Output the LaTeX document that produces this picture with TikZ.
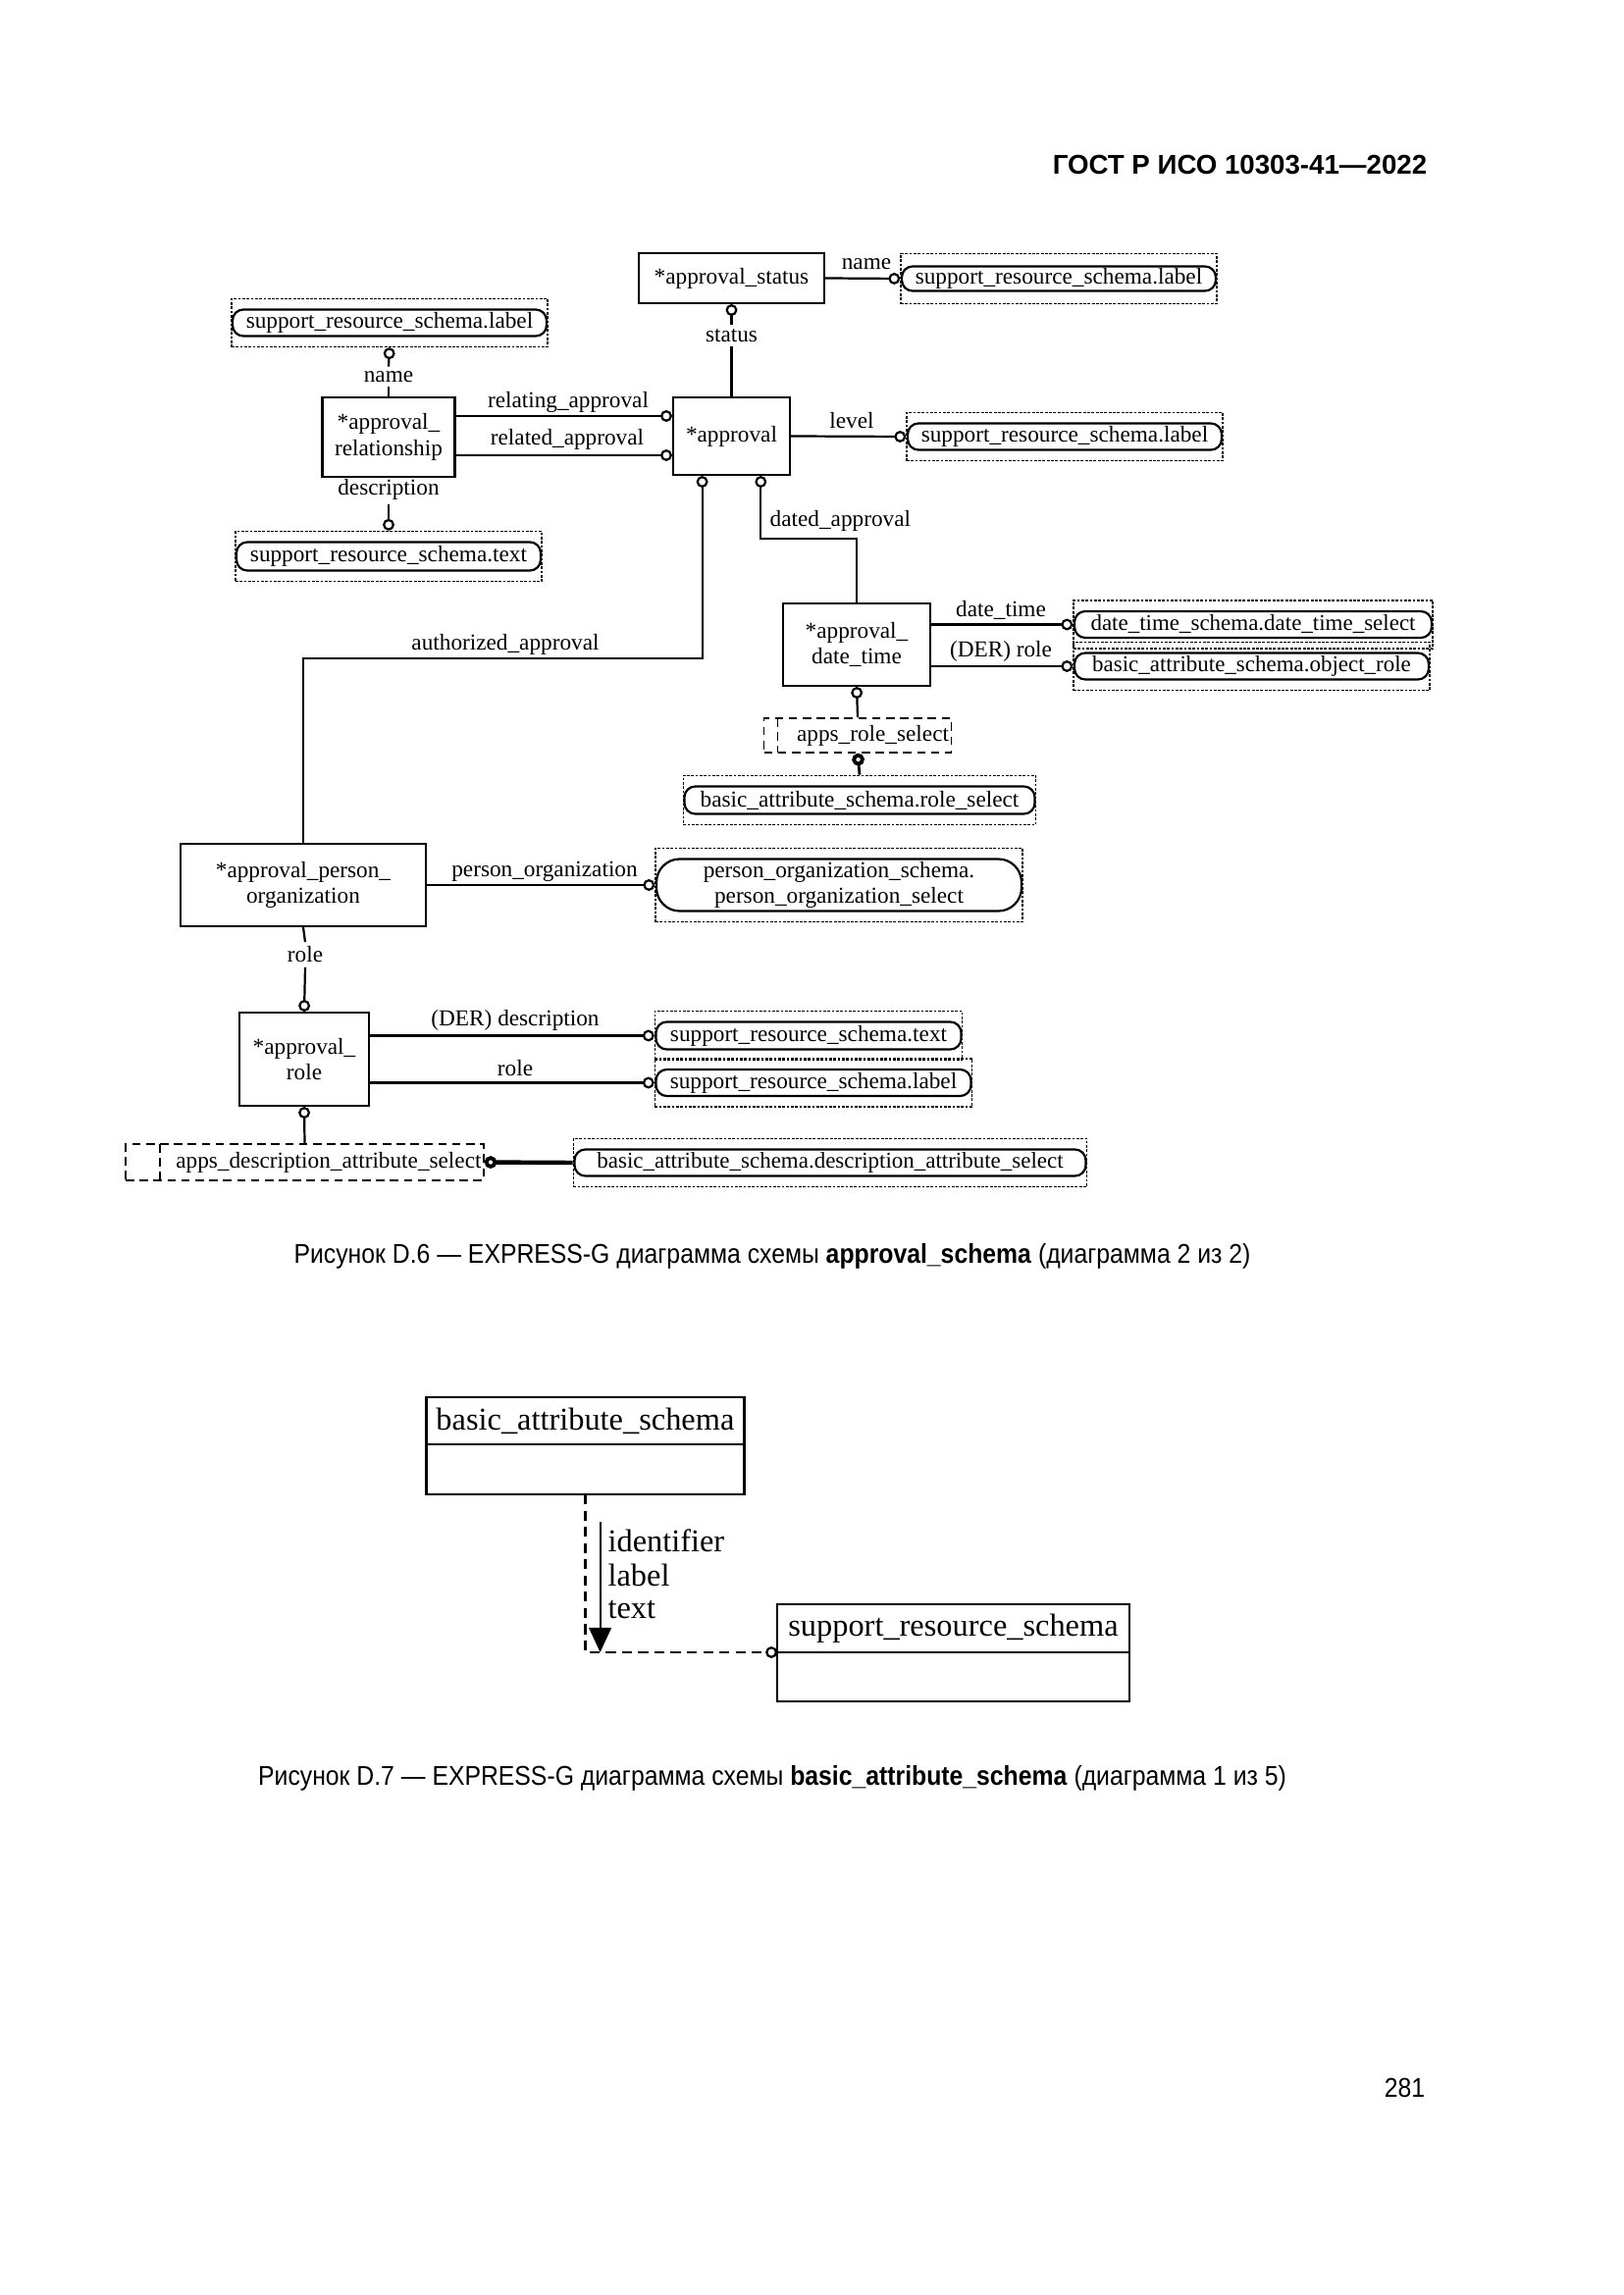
\documentclass[tikz,border=0pt]{standalone}
\usepackage{fontspec}
\setmainfont{Liberation Sans}
\newfontfamily\capfont[FakeStretch=0.895]{Liberation Sans}
\newfontfamily\diagfont{Liberation Serif}
\usetikzlibrary{arrows.meta,fit,positioning}
\newcommand{\pxu}{0.127mm}
\newcommand{\dfont}{\diagfont\fontsize{8.4}{9.5}\selectfont}
\newcommand{\sfont}{\diagfont\fontsize{11.7}{13}\selectfont}
\tikzstyle{ent} = [draw=black, line width=0.8pt, align=center, inner sep=0pt, font=\dfont]
\tikzstyle{refin} = [draw=black, line width=0.8pt, rounded corners=1.4mm, align=center, inner sep=0pt, font=\dfont]
\tikzstyle{refout} = [draw=black, line width=0.5pt, dash pattern=on 0.35mm off 0.2mm, inner xsep=0pt, inner ysep=10*\pxu]
\tikzstyle{lab} = [font=\dfont, inner sep=1.5pt]
\tikzstyle{rel} = [line width=0.8pt, -{Circle[open,length=1.5mm,width=1.5mm]}]
\tikzstyle{relb} = [line width=1pt, -{Circle[open,length=1.6mm,width=1.6mm,line width=1.4pt]}]
\tikzstyle{schname} = [draw=black, line width=0.9pt, inner sep=0pt, outer sep=0pt, font=\sfont]
\tikzstyle{figcap} = [font=\capfont\fontsize{10}{12}\selectfont]
\tikzset{selbox/.style={draw=black, line width=0.6pt, dash pattern=on 1.1mm off 0.7mm,
    font=\dfont, inner sep=0.3mm, align=right,
    path picture={\draw[line width=0.6pt, dash pattern=on 1.1mm off 0.7mm]
      ([xshift=#1]path picture bounding box.north west) -- ([xshift=#1]path picture bounding box.south west);}}}

\begin{document}
\begin{tikzpicture}[x=0.127mm, y=-0.127mm]
  \useasboundingbox (0,0) rectangle (1654,2339);
  \node[anchor=east, font=\bfseries\fontsize{10}{12}\selectfont] (head) at (1464,168) {ГОСТ Р ИСО 10303-41—2022};

  % approval_schema, diagram 2
  \node[ent, minimum width=189*\pxu, minimum height=51*\pxu] (ast) at (745.5,283.5) {*approval\_status};
  \node[ent, minimum width=135*\pxu, minimum height=81*\pxu] (arel) at (396,445.5) {*approval\_\\relationship};
  \node[ent, minimum width=119*\pxu, minimum height=79*\pxu] (appr) at (745.5,444.5) {*approval};
  \node[ent, minimum width=150*\pxu, minimum height=84*\pxu] (adt) at (873,657) {*approval\_\\date\_time};
  \node[ent, minimum width=250*\pxu, minimum height=84*\pxu] (apo) at (309,902) {*approval\_person\_\\organization};
  \node[ent, minimum width=132*\pxu, minimum height=95*\pxu] (arol) at (310,1079.5) {*approval\_\\role};

  \node[refin, minimum width=320*\pxu, minimum height=25*\pxu] (lblAin) at (1079,284) {support\_resource\_schema.label};
  \node[refout, fit=(lblAin), inner ysep=12*\pxu] (lblA) {};
  \node[refin, minimum width=320*\pxu, minimum height=27*\pxu] (lblBin) at (397,329) {support\_resource\_schema.label};
  \node[refout, fit=(lblBin)] (lblB) {};
  \node[refin, minimum width=320*\pxu, minimum height=27*\pxu] (lblCin) at (1085,445) {support\_resource\_schema.label};
  \node[refout, fit=(lblCin)] (lblC) {};
  \node[refin, minimum width=310*\pxu, minimum height=29*\pxu] (txtAin) at (396,567) {support\_resource\_schema.text};
  \node[refout, fit=(txtAin)] (txtA) {};
  \node[refin, minimum width=364*\pxu, minimum height=27*\pxu, font=\diagfont\fontsize{8.3}{9.5}\selectfont] (dtsin) at (1277,636.5) {date\_time\_schema.date\_time\_select};
  \node[refout, fit=(dtsin)] (dts) {};
  \node[refin, minimum width=361*\pxu, minimum height=27*\pxu, font=\diagfont\fontsize{8.3}{9.5}\selectfont] (objrin) at (1275.5,679) {basic\_attribute\_schema.object\_role};
  \node[refout, fit=(objrin)] (objr) {};
  \node[refin, minimum width=357*\pxu, minimum height=28*\pxu] (rselin) at (876,815.5) {basic\_attribute\_schema.role\_select};
  \node[refout, fit=(rselin)] (rsel) {};
  \node[refin, rounded corners=3mm, minimum width=372*\pxu, minimum height=53*\pxu] (porgin) at (855,902) {person\_organization\_schema.\\person\_organization\_select};
  \node[refout, fit=(porgin)] (porg) {};
  \node[refin, minimum width=311*\pxu, minimum height=28*\pxu] (txtBin) at (824,1055.5) {support\_resource\_schema.text};
  \node[refout, fit=(txtBin)] (txtB) {};
  \node[refin, minimum width=321*\pxu, minimum height=27*\pxu] (lblDin) at (829,1103.5) {support\_resource\_schema.label};
  \node[refout, fit=(lblDin)] (lblD) {};
  \node[refin, minimum width=521*\pxu, minimum height=27*\pxu, font=\diagfont\fontsize{8.3}{9.5}\selectfont] (dselin) at (846,1185) {basic\_attribute\_schema.description\_attribute\_select};
  \node[refout, fit=(dselin)] (dsel) {};

  \node[selbox=14*\pxu, minimum height=35*\pxu, text width=186*\pxu] (ars) at (874,749.5) {apps\_role\_select};
  \node[selbox=35*\pxu, minimum height=37*\pxu, text width=360*\pxu] (ads) at (310.5,1184.5) {apps\_description\_attribute\_select};

  \node[lab] (lname) at (883,269) {name};
  \node[lab] (lstatus) at (745.5,342) {status};
  \node[lab] (lnameB) at (396,384) {name};
  \node[lab] (lrelating) at (579,410) {relating\_approval};
  \node[lab] (lrelated) at (578,448) {related\_approval};
  \node[lab] (llevel) at (868,429) {level};
  \node[lab] (ldesc) at (396,499) {description};
  \node[lab, anchor=west] (ldated) at (780,531) {dated\_approval};
  \node[lab] (lauth) at (515,657) {authorized\_approval};
  \node[lab] (ldt) at (1020,622) {date\_time};
  \node[lab] (lderrole) at (1020,664) {(DER) role};
  \node[lab] (lporg) at (555,888) {person\_organization};
  \node[lab] (lrole) at (311,973) {role};
  \node[lab] (lderdesc) at (525,1040) {(DER) description};
  \node[lab] (lroleB) at (525,1089) {role};

  \coordinate (authA) at (715.6,671);
  \coordinate (datedA) at (775.3,549);

  \draw[rel] (ast.east) -- (lblA.west);
  \draw[line width=0.8pt] (appr.north) -- (lstatus.south);
  \draw[rel] (lstatus.north) -- (ast.south);
  \draw[line width=0.8pt] (arel.north) -- (lnameB.south);
  \draw[rel] (lnameB.north) -- (lblB.south);
  \draw[rel] (arel.east |- 0,424) -- (appr.west |- 0,424);
  \draw[rel] (arel.east |- 0,464) -- (appr.west |- 0,464);
  \draw[rel] (appr.east) -- (lblC.west);
  \draw[rel] (ldesc.south) -- (txtA.north);
  \draw[rel] (apo.north) |- (authA) -- (authA |- appr.south);
  \draw[rel] (adt.north) |- (datedA) -- (datedA |- appr.south);
  \draw[rel] (adt.east |- dts.west) -- (dts.west);
  \draw[rel] (adt.east |- objr.west) -- (objr.west);
  \draw[rel] (ars.north) -- (adt.south);
  \draw[relb] (rsel.north) -- (ars.south);
  \draw[rel] (apo.east) -- (porg.west);
  \draw[line width=0.8pt] (apo.south) -- (lrole.north);
  \draw[rel] (lrole.south) -- (arol.north);
  \draw[rel] (arol.east |- txtB.west) -- (txtB.west);
  \draw[rel] (arol.east |- lblD.west) -- (lblD.west);
  \draw[rel] (ads.north) -- (arol.south);
  \draw[relb, line width=1.6pt] (dsel.west) -- (ads.east);

  \node[figcap] (capA) at (787,1280) {Рисунок D.6 — EXPRESS-G диаграмма схемы \textbf{approval\_schema} (диаграмма 2 из 2)};

  % basic_attribute_schema, diagram 1
  \node[schname, minimum width=324*\pxu, minimum height=48*\pxu] (bas) at (596.4,1448) {basic\_attribute\_schema};
  \node[schname, minimum width=324*\pxu, minimum height=51*\pxu, below=0pt of bas] (basb) {};
  \node[schname, minimum width=359*\pxu, minimum height=49*\pxu] (srs) at (971.5,1659.5) {support\_resource\_schema};
  \node[schname, minimum width=359*\pxu, minimum height=50*\pxu, below=0pt of srs] (srsb) {};
  \coordinate (refA) at (611.6,1551);
  \draw[rel, dash pattern=on 1.3mm off 0.8mm] (basb.south) |- (srs.south west);
  \draw[line width=0.7pt, -{Triangle[length=3.2mm,width=2.9mm]}] (refA) -- (refA |- srs.south west);
  \node[font=\sfont, anchor=west, inner sep=0pt] (lid) at (619,1570) {identifier};
  \node[font=\sfont, anchor=west, inner sep=0pt] (llab) at (619,1605) {label};
  \node[font=\sfont, anchor=west, inner sep=0pt] (ltxt) at (619,1641) {text};

  \node[figcap] (capB) at (787,1812) {Рисунок D.7 — EXPRESS-G диаграмма схемы \textbf{basic\_attribute\_schema} (диаграмма 1 из 5)};
  \node[figcap, anchor=east] (pnum) at (1462,2128) {281};
\end{tikzpicture}
\end{document}
